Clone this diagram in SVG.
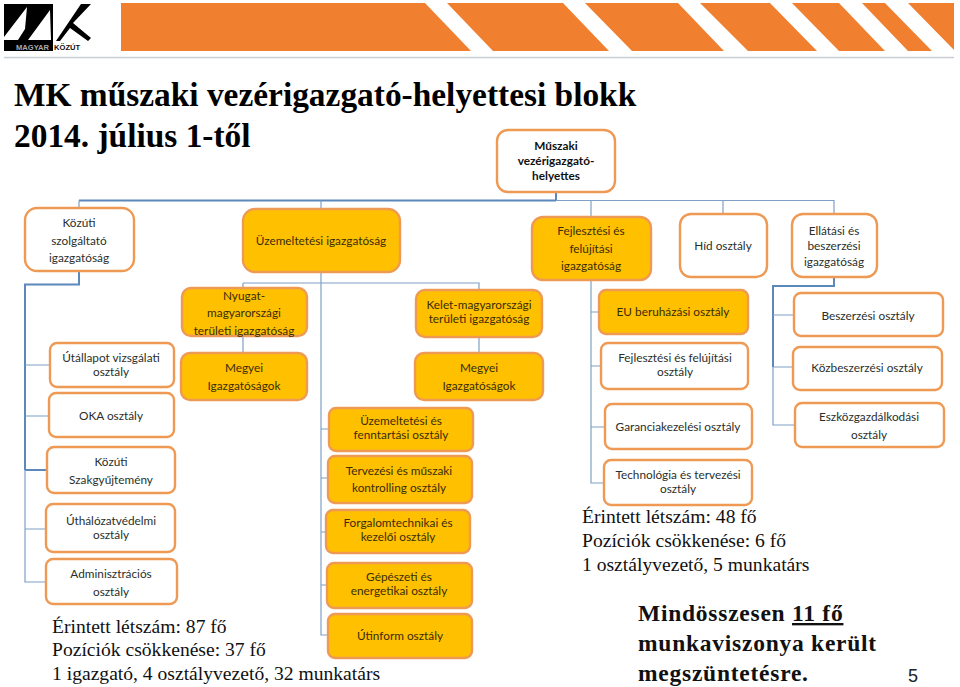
<svg xmlns="http://www.w3.org/2000/svg" width="960" height="687" viewBox="0 0 960 687">
<style>
.o{fill:#fff;stroke:#ee9a55;stroke-width:2.4}
.y{fill:#ffc000;stroke:#ee9a55;stroke-width:2.4}
.t{font-family:"Lato","Open Sans",sans-serif;font-size:11.8px;fill:#2a2f2c;text-anchor:middle}
.ty{fill:#3a2c08}
.b{font-weight:700;fill:#111}
.c{fill:none;stroke:#7fa0c6;stroke-width:1.2}
.d{fill:none;stroke:#5d88bb;stroke-width:2}
.s{font-family:"Liberation Serif",serif;fill:#111}
.h{font-size:33.4px;font-weight:700;fill:#000}
.n{font-size:19.6px}
.m{font-size:23.5px;font-weight:700;letter-spacing:.75px}
.bar{fill:#f08030}
</style>
<rect width="960" height="687" fill="#fff"/>
<g id="header">
<path class="bar" d="M121 3H425L471 51H121ZM447 3H563L609 51H493ZM585 3H678L724 51H632ZM700 3H770L817 51H748ZM792 3H839L885 51H839ZM862 3H885L932 51H908ZM908 3H954V50Z"/>
<rect x="4" y="56.8" width="950" height="1.5" fill="#c9ccd2"/>
</g>
<g id="logo">
<rect x="4" y="4" width="49" height="37" fill="#000"/>
<path d="M58 38L81 4H91L73 23L91 38L88 41L70 28L60 41H56Z" fill="#000"/>
<path d="M4 37L27 7L25 29L18 40H4ZM28 40L50 10L51 40Z" fill="#fff"/>
<rect x="4" y="41" width="49" height="10" fill="#000"/>
<text x="16" y="49.5" font-family="Liberation Sans,sans-serif" font-size="7.6" font-weight="700" fill="#aaa">MAGYAR</text>
<text x="54" y="49.5" font-family="Liberation Sans,sans-serif" font-size="7.6" font-weight="700" fill="#111">KÖZÚT</text>
</g>
<g id="title" class="s">
<text class="s h" x="14" y="106">MK műszaki vezérigazgató-helyettesi blokk</text>
<text class="s h" x="14" y="147">2014. július 1-től</text>
</g>
<g id="connectors">
<path class="d" d="M79 200.5H556M556 192V200.5M79 271V284.5H25V470M25 470H47"/>
<path class="c" d="M556 200.5H834V214M79 200.5V208M321 200.5V209M591 200.5V217M723 200.5V214"/>
<path class="c" d="M25 470V582H46M25 365H50M25 416H49M25 529H46"/>
<path class="c" d="M321 272V635H328M243 283H479V290M243 283V288M243 336V353M479 337V353M321 429H329M321 478H328M321 532H326M321 585H327"/>
<path class="c" d="M591 280V483H604M591 312H599M591 366H601M591 427H605"/>
<path class="d" d="M834 277V286H773V367" stroke-width="1.6"/>
<path class="c" d="M773 367V425H795M773 315H794M773 367H793"/>
</g>
<g id="n-top"><rect class="o" x="497" y="130" width="118" height="62" rx="11"/><text class="t b" x="556" y="150">Műszaki</text><text class="t b" x="556" y="165">vezérigazgató-</text><text class="t b" x="556" y="180">helyettes</text></g>
<g id="n-kozuti"><rect class="o" x="25" y="208" width="109" height="63" rx="12"/><text class="t" x="79" y="227">Közúti</text><text class="t" x="79" y="245">szolgáltató</text><text class="t" x="79" y="262">igazgatóság</text></g>
<g id="n-uzem"><rect class="y" x="243" y="209" width="157" height="63" rx="12"/><text class="t ty" x="321" y="245">Üzemeltetési igazgatóság</text></g>
<g id="n-nyugat"><rect class="y" x="182" y="288" width="125" height="48" rx="9"/><text class="t ty" x="244" y="300">Nyugat-</text><text class="t ty" x="244" y="317">magyarországi</text><text class="t ty" x="244" y="335">területi igazgatóság</text></g>
<g id="n-kelet"><rect class="y" x="416" y="290" width="126" height="47" rx="9"/><text class="t ty" x="479" y="309">Kelet-magyarországi</text><text class="t ty" x="479" y="323.3">területi igazgatóság</text></g>
<g id="n-megyei1"><rect class="y" x="181" y="353" width="126" height="47" rx="9"/><text class="t ty" x="244" y="372">Megyei</text><text class="t ty" x="244" y="390">Igazgatóságok</text></g>
<g id="n-megyei2"><rect class="y" x="415" y="353" width="128" height="47" rx="9"/><text class="t ty" x="479" y="372">Megyei</text><text class="t ty" x="479" y="390">Igazgatóságok</text></g>
<g id="n-fejl"><rect class="y" x="532" y="217" width="119" height="63" rx="11"/><text class="t ty" x="591" y="235">Fejlesztési és</text><text class="t ty" x="591" y="253">felújítási</text><text class="t ty" x="591" y="270">igazgatóság</text></g>
<g id="n-hid"><rect class="o" x="680" y="214" width="87" height="63" rx="11"/><text class="t" x="723" y="250">Híd osztály</text></g>
<g id="n-ellat"><rect class="o" x="792" y="214" width="85" height="63" rx="11"/><text class="t" x="834" y="235">Ellátási és</text><text class="t" x="834" y="250">beszerzési</text><text class="t" x="834" y="266">igazgatóság</text></g>
<g id="n-eu"><rect class="y" x="599" y="290" width="149" height="44" rx="7"/><text class="t ty" x="673" y="316">EU beruházási osztály</text></g>
<g id="n-fejlfel"><rect class="o" x="601" y="343" width="147" height="46" rx="7"/><text class="t" x="675" y="361.5">Fejlesztési és felújítási</text><text class="t" x="675" y="376">osztály</text></g>
<g id="n-gar"><rect class="o" x="605" y="404" width="147" height="45" rx="7"/><text class="t" x="678" y="431">Garanciakezelési osztály</text></g>
<g id="n-tech"><rect class="o" x="604" y="460" width="148" height="45" rx="7"/><text class="t" x="678" y="478.5">Technológia és tervezési</text><text class="t" x="678" y="493">osztály</text></g>
<g id="n-besz"><rect class="o" x="794" y="293" width="149" height="43" rx="7"/><text class="t" x="868" y="320">Beszerzési osztály</text></g>
<g id="n-kozb"><rect class="o" x="793" y="347" width="149" height="43" rx="7"/><text class="t" x="867" y="372">Közbeszerzési osztály</text></g>
<g id="n-eszk"><rect class="o" x="795" y="403" width="149" height="44" rx="7"/><text class="t" x="869" y="421">Eszközgazdálkodási</text><text class="t" x="869" y="439">osztály</text></g>
<g id="n-utall"><rect class="o" x="50" y="343" width="124" height="44" rx="7"/><text class="t" x="111" y="361.5">Útállapot vizsgálati</text><text class="t" x="111" y="376">osztály</text></g>
<g id="n-oka"><rect class="o" x="49" y="393" width="125" height="44" rx="7"/><text class="t" x="111" y="420">OKA osztály</text></g>
<g id="n-szak"><rect class="o" x="47" y="447" width="128" height="46" rx="7"/><text class="t" x="111" y="466">Közúti</text><text class="t" x="111" y="484">Szakgyűjtemény</text></g>
<g id="n-uthal"><rect class="o" x="46" y="504" width="129" height="48" rx="7"/><text class="t" x="111" y="524.5">Úthálózatvédelmi</text><text class="t" x="111" y="539">osztály</text></g>
<g id="n-admin"><rect class="o" x="46" y="559" width="131" height="45" rx="7"/><text class="t" x="111" y="578">Adminisztrációs</text><text class="t" x="111" y="596">osztály</text></g>
<g id="n-uzf"><rect class="y" x="329" y="408" width="144" height="43" rx="7"/><text class="t ty" x="401" y="425">Üzemeltetési és</text><text class="t ty" x="401" y="439.3">fenntartási osztály</text></g>
<g id="n-terv"><rect class="y" x="328" y="456" width="144" height="47" rx="7"/><text class="t ty" x="399" y="475">Tervezési és műszaki</text><text class="t ty" x="399" y="492">kontrolling osztály</text></g>
<g id="n-forg"><rect class="y" x="326" y="510" width="144" height="43" rx="7"/><text class="t ty" x="398" y="527">Forgalomtechnikai és</text><text class="t ty" x="398" y="541.3">kezelői osztály</text></g>
<g id="n-gep"><rect class="y" x="327" y="563" width="145" height="45" rx="7"/><text class="t ty" x="399" y="581">Gépészeti és</text><text class="t ty" x="399" y="595.3">energetikai osztály</text></g>
<g id="n-uti"><rect class="y" x="328" y="614" width="144" height="44" rx="7"/><text class="t ty" x="400" y="640">Útinform osztály</text></g>
<g id="notes">
<text class="s n" x="52" y="633">Érintett létszám: 87 fő</text>
<text class="s n" x="52" y="656">Pozíciók csökkenése: 37 fő</text>
<text class="s n" x="52" y="680">1 igazgató, 4 osztályvezető, 32 munkatárs</text>
<text class="s n" x="582" y="523">Érintett létszám: 48 fő</text>
<text class="s n" x="582" y="547">Pozíciók csökkenése: 6 fő</text>
<text class="s n" x="582" y="571">1 osztályvezető, 5 munkatárs</text>
<text class="s m" x="638" y="621">Mindösszesen <tspan text-decoration="underline">11 fő</tspan></text>
<text class="s m" x="638" y="651">munkaviszonya került</text>
<text class="s m" x="638" y="681">megszüntetésre.</text>
<text x="908" y="682" font-family="Liberation Sans,sans-serif" font-size="18" fill="#222">5</text>
</g>
</svg>
